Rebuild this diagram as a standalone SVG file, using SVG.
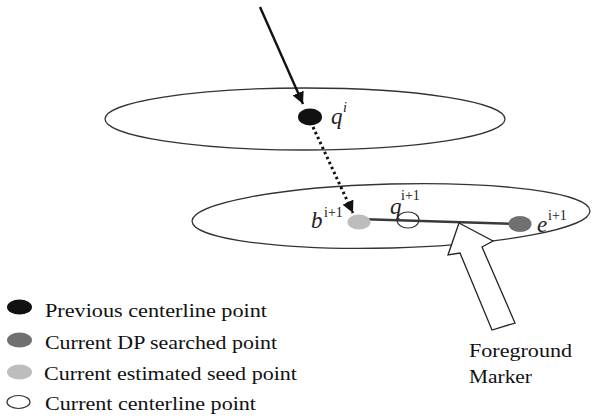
<svg xmlns="http://www.w3.org/2000/svg" width="600" height="420" viewBox="0 0 600 420">
<defs>
<style>
.plane{fill:none;stroke:#333;stroke-width:1.3}
.lbl{font-family:"Liberation Serif","Times New Roman",serif;font-style:italic;font-size:23px;fill:#222}
.sup{font-family:"Liberation Serif","Times New Roman",serif;font-size:14px;fill:#222}
.leg{font-family:"Liberation Serif","Times New Roman",serif;font-size:19px;fill:#111}
.prev{fill:#111}
.dp{fill:#707070}
.seed{fill:#bdbdbd}
.cur{fill:none;stroke:#333;stroke-width:1.2}
</style>
<marker id="ah" viewBox="0 0 10 10" refX="10" refY="5" markerWidth="5" markerHeight="5" orient="auto" markerUnits="strokeWidth">
<path d="M0,0 L10,5 L0,10 z" fill="#111"/>
</marker>
<marker id="ahd" viewBox="0 0 10 10" refX="10" refY="5" markerWidth="4" markerHeight="4" orient="auto" markerUnits="strokeWidth">
<path d="M0,0 L10,5 L0,10 z" fill="#111"/>
</marker>
</defs>
<rect width="600" height="420" fill="#fff"/>

<g id="plane-i">
<ellipse class="plane" cx="305" cy="119" rx="200" ry="31"/>
</g>
<g id="plane-i1">
<ellipse class="plane" cx="391" cy="216" rx="199" ry="32" transform="rotate(-1.5 391 216)"/>
</g>

<g id="connectors">
<line x1="260" y1="7" x2="303" y2="104" stroke="#111" stroke-width="2.4" marker-end="url(#ah)"/>
<line x1="313" y1="127" x2="353" y2="213" stroke="#111" stroke-width="3" stroke-dasharray="2.5 3" marker-end="url(#ahd)"/>
</g>

<g id="node-qi">
<ellipse class="prev" cx="310" cy="117" rx="12" ry="8.5"/>
<text class="lbl" x="331" y="124">q</text>
<text class="sup" x="343" y="112" font-style="italic">i</text>
</g>

<g id="segment">
<line x1="358" y1="219" x2="520" y2="224" stroke="#3a3a3a" stroke-width="2.6"/>
</g>

<g id="node-b">
<ellipse class="seed" cx="359" cy="222" rx="11.5" ry="7.5"/>
<text class="lbl" x="311" y="228">b</text>
<text class="sup" x="324" y="217">i+1</text>
</g>

<g id="node-q1">
<ellipse class="cur" cx="408" cy="220" rx="11" ry="8"/>
<text class="lbl" x="390" y="214">q</text>
<text class="sup" x="401" y="200">i+1</text>
</g>

<g id="node-e">
<ellipse class="dp" cx="520" cy="224" rx="11.5" ry="8"/>
<text class="lbl" x="537" y="232">e</text>
<text class="sup" x="548" y="220">i+1</text>
</g>

<g id="foreground-marker">
<polygon points="459,223 493,241 482,247 515,323 492,330 460,253 448,255" fill="#fff" stroke="#222" stroke-width="1.3" stroke-linejoin="miter"/>
<text class="leg" x="469" y="357" textLength="103" lengthAdjust="spacingAndGlyphs">Foreground</text>
<text class="leg" x="469" y="383" textLength="63" lengthAdjust="spacingAndGlyphs">Marker</text>
</g>

<g id="legend">
<ellipse class="prev" cx="19.5" cy="307" rx="12.5" ry="7.5"/>
<text class="leg" x="45" y="317" textLength="222" lengthAdjust="spacingAndGlyphs">Previous centerline point</text>
<ellipse class="dp" cx="19.5" cy="340" rx="12.5" ry="7.5"/>
<text class="leg" x="45" y="349" textLength="232" lengthAdjust="spacingAndGlyphs">Current DP searched point</text>
<ellipse class="seed" cx="19.5" cy="372" rx="12.5" ry="7.5"/>
<text class="leg" x="44" y="380" textLength="253" lengthAdjust="spacingAndGlyphs">Current estimated seed point</text>
<ellipse class="cur" cx="18.5" cy="402" rx="11.5" ry="6.5"/>
<text class="leg" x="45" y="410" textLength="211" lengthAdjust="spacingAndGlyphs">Current centerline point</text>
</g>
</svg>
